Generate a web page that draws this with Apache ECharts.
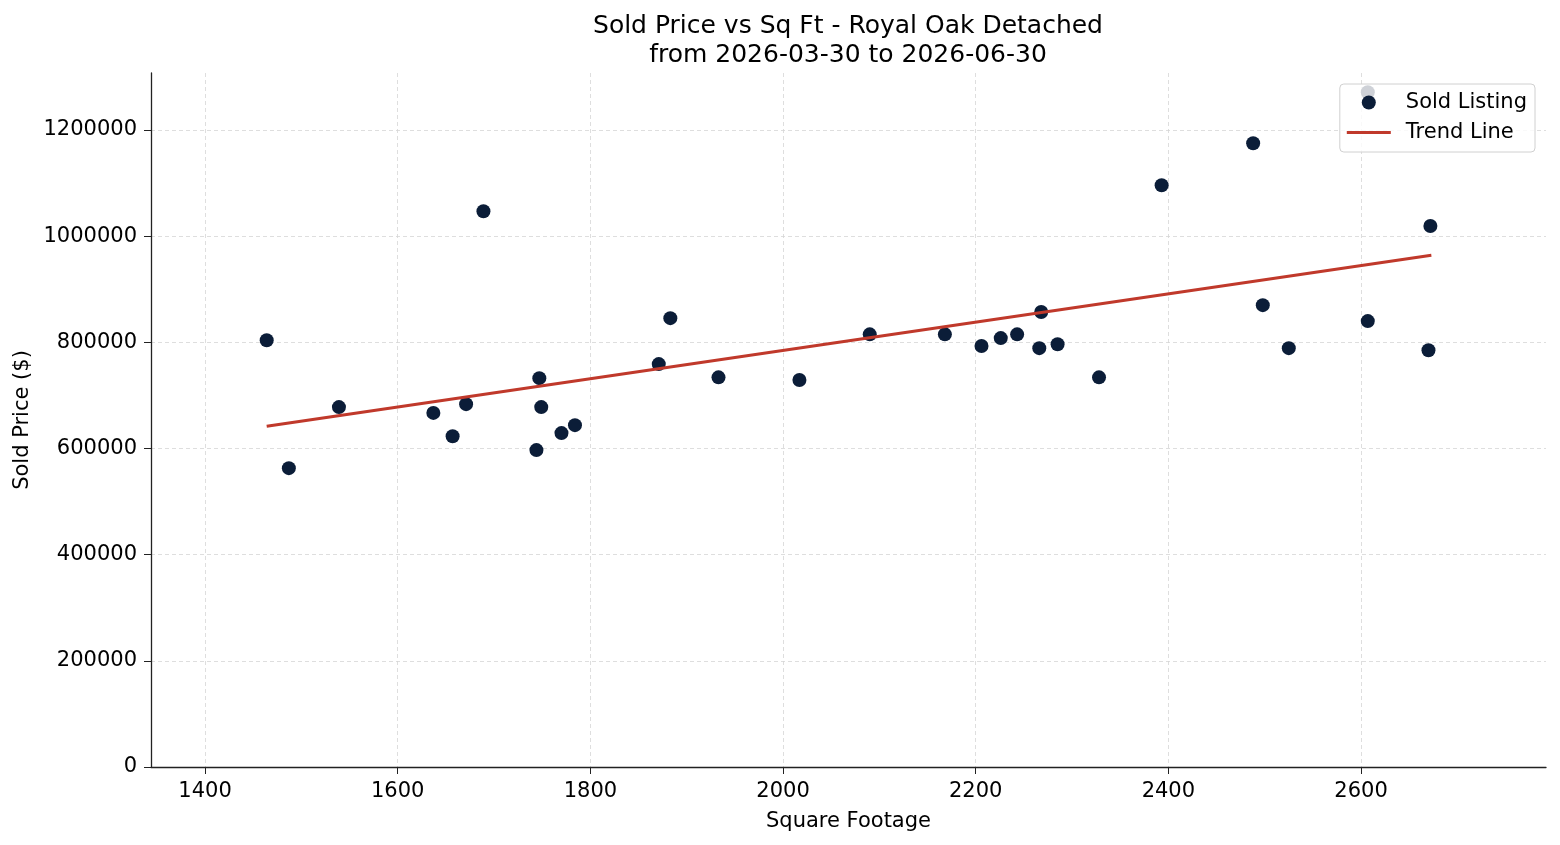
<!DOCTYPE html>
<html>
<head>
    <meta charset="utf-8"/>
    <title>Sold Price vs Sq Ft</title>
    <script src="https://cdn.jsdelivr.net/npm/echarts@6/dist/echarts.min.js"></script>
    <style>
        html, body { margin: 0; padding: 0; background: #fff; }
    </style>
</head>
<body>

<div id="main" style="width: 1560px;height:845px;"></div>

<script>
    // square footage of each sold listing
    var sqft = [1464, 1487, 1539, 1637, 1657, 1671, 1689, 1744, 1747, 1749, 1770, 1784,
        1871, 1883, 1933, 2017, 2090, 2168, 2206, 2226, 2243, 2266, 2268, 2285,
        2328, 2393, 2488, 2498, 2525, 2607, 2607, 2670, 2672];
    // sold price of each listing
    var soldPrice = [804000, 563000, 678000, 667000, 623000, 683500, 1047000, 597000, 732500, 678000, 629000, 644000,
        759000, 845500, 734000, 729000, 815000, 815000, 793000, 808000, 815000, 789000, 857000, 796500,
        734000, 1096000, 1175000, 870000, 789000, 840000, 1271000, 785000, 1019000];

    // trend line end points
    var trendX = [1464, 2673];
    var trendY = [642000, 964000];

    var xTicks = [1400, 1600, 1800, 2000, 2200, 2400, 2600];
    var yTicks = [0, 200000, 400000, 600000, 800000, 1000000, 1200000];

    var font = 'DejaVu Sans';

    var points = [];
    for (var i = 0; i < sqft.length; i++) {
        points.push([sqft[i], soldPrice[i]]);
    }
    var trend = [];
    for (var j = 0; j < trendX.length; j++) {
        trend.push([trendX[j], trendY[j]]);
    }

    // plain numbers, no thousand separators
    var plain = function (v) { return String(v); };

    var myChart = echarts.init(document.getElementById('main'));

    var option = {
        animation: false,
        backgroundColor: '#fff',
        textStyle: { fontFamily: font },
        title: {
            text: 'Sold Price vs Sq Ft - Royal Oak Detached\nfrom 2026-03-30 to 2026-06-30',
            left: 843,
            textAlign: 'center',
            top: 7,
            textStyle: {
                fontFamily: font,
                fontWeight: 'normal',
                fontSize: 25,
                lineHeight: 29,
                color: '#000'
            }
        },
        legend: {
            orient: 'vertical',
            right: 25,
            top: 84,
            padding: [8, 8, 9, 7],
            itemGap: 9,
            itemWidth: 44,
            itemHeight: 14,
            backgroundColor: 'rgba(255,255,255,0.8)',
            borderColor: '#d0d0d0',
            borderWidth: 1,
            borderRadius: 4,
            textStyle: { fontFamily: font, fontSize: 21, color: '#000', padding: [0, 0, 0, 10] },
            data: [
                { name: 'Sold Listing', icon: 'circle' },
                { name: 'Trend Line', icon: 'path://M0,0L0.01,0L0,0.01Z M0,5.5L44,5.5L44,8.5L0,8.5Z M0,14L0.01,14L0,13.99Z' }
            ],
            z: 10
        },
        grid: {
            left: 151,
            right: 14,
            top: 73,
            bottom: 78,
            containLabel: false
        },
        xAxis: {
            type: 'value',
            min: 1343.9,
            max: 2792,
            name: 'Square Footage',
            nameLocation: 'middle',
            nameGap: 44,
            nameTextStyle: { fontFamily: font, fontSize: 21, color: '#000' },
            axisLine: { show: true, lineStyle: { color: '#222', width: 1.3 } },
            axisTick: { show: true, inside: false, length: 7, customValues: xTicks, lineStyle: { color: '#222' } },
            axisLabel: { customValues: xTicks, formatter: plain, fontSize: 21, color: '#000', margin: 14, fontFamily: font },
            splitLine: { show: true, lineStyle: { color: '#d5d5d5', type: [4, 3], width: 0.8 } }
        },
        yAxis: {
            type: 'value',
            min: 0,
            max: 1307345,
            name: 'Sold Price ($)',
            nameLocation: 'middle',
            nameGap: 116,
            nameTextStyle: { fontFamily: font, fontSize: 21, color: '#000' },
            axisLine: { show: true, lineStyle: { color: '#222', width: 1.3 } },
            axisTick: { show: true, inside: false, length: 7, customValues: yTicks, lineStyle: { color: '#222' } },
            axisLabel: { customValues: yTicks, formatter: plain, fontSize: 21, color: '#000', margin: 14, fontFamily: font },
            splitLine: { show: true, lineStyle: { color: '#d5d5d5', type: [4, 3], width: 0.8 } }
        },
        series: [
            {
                name: 'Sold Listing',
                type: 'scatter',
                data: points,
                symbol: 'circle',
                symbolSize: 14,
                itemStyle: { color: '#0b1d38', opacity: 1 },
                z: 3
            },
            {
                name: 'Trend Line',
                type: 'line',
                data: trend,
                symbol: 'none',
                lineStyle: { color: '#c0392b', width: 3 },
                itemStyle: { color: '#c0392b' },
                z: 4
            }
        ]
    };

    myChart.setOption(option);
</script>
</body>
</html>
